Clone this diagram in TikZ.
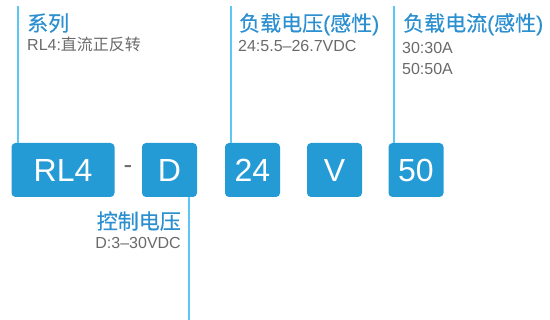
\documentclass[tikz,border=0pt]{standalone}
\usepackage{fontspec}
\setmainfont{Liberation Sans}
\newfontfamily\cjk{Noto Sans CJK SC}
\newfontfamily\cjkt[FakeBold=0.4]{Noto Sans CJK SC}
\newfontfamily\latt[FakeBold=0.4]{Liberation Sans}
\definecolor{boxblue}{HTML}{259BD6}
\definecolor{titleblue}{HTML}{2B8FD0}
\definecolor{lineblue}{HTML}{5BC8F5}
\definecolor{txtgray}{HTML}{6A6A6A}
\begin{document}
\begin{tikzpicture}[x=1pt,y=-1pt,
  codebox/.style={fill=boxblue, rounded corners=4pt, text=white, inner sep=0pt,
    minimum height=54pt, font=\fontsize{32}{36}\selectfont},
  title/.style={text=titleblue, inner sep=0pt, font=\fontsize{21}{24}\selectfont\cjkt},
  info/.style={text=txtgray, inner sep=0pt, font=\fontsize{16}{18}\selectfont},
  guide/.style={draw=lineblue, line width=1.5pt}]
\useasboundingbox (0,0) rectangle (550,320);
% boxes
\node[codebox, minimum width=103pt] (rl4) at (63,170) {RL4};
\node[text=txtgray, inner sep=0pt, font=\fontsize{26}{30}\selectfont] (dash) at (128,170) {-};
\node[codebox, minimum width=55pt] (d) at (169.5,170) {D};
\node[codebox, minimum width=55pt] (v24) at (252.5,170) {24};
\node[codebox, minimum width=55pt] (vv) at (334.5,170) {V};
\node[codebox, minimum width=55pt] (c50) at (416,170) {50};
% guide lines
\coordinate (t1) at (18,6);
\coordinate (t2) at (231,6);
\coordinate (t3) at (394,6);
\coordinate (b4) at (189,320);
\draw[guide] (t1) -- (t1 |- rl4.north);
\draw[guide] (t2) -- (t2 |- v24.north);
\draw[guide] (t3) -- (t3 |- c50.north);
\draw[guide] (b4) -- (b4 |- d.south);
% texts
\node[title, anchor=base west] (s1) at (27,31) {系列};
\node[info, anchor=base west] (s1a) at (27,51) {RL4:{\cjk 直流正反转}};
\node[title, anchor=base west] (s2) at (239,31) {负载电压{\latt(}感性{\latt)}};
\node[info, anchor=base west] (s2a) at (238,52) {24:5.5–26.7VDC};
\node[title, anchor=base west] (s3) at (403,31) {负载电流{\latt(}感性{\latt)}};
\node[info, anchor=base west] (s3a) at (402,53.5) {30:30A};
\node[info, anchor=base west] (s3b) at (402,74.5) {50:50A};
\node[title, anchor=base east] (s4) at (181,229) {控制电压};
\node[info, anchor=base east] (s4a) at (181,249) {D:3–30VDC};
\end{tikzpicture}
\end{document}
